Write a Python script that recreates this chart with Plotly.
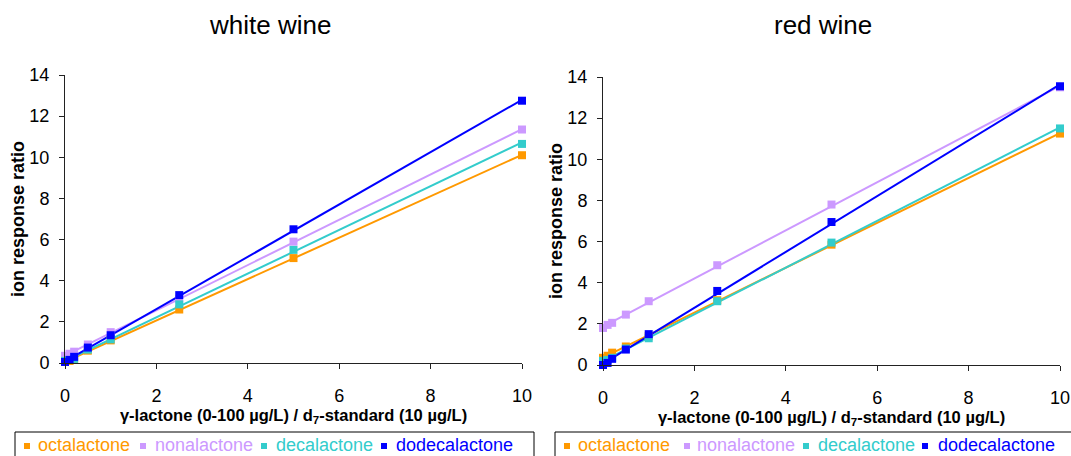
import numpy as np
import plotly.graph_objects as go

# Concentration ratio levels (gamma-lactone / d7-standard)
x_levels = [0, 0.1, 0.2, 0.5, 1, 2.5, 5, 10]

names = ["octalactone", "nonalactone", "decalactone", "dodecalactone"]
colors = ["#FF9900", "#CC99FF", "#33CCCC", "#0000FF"]

# White wine ion response ratios
white_octa = [0.05, 0.1, 0.2, 0.6, 1.1, 2.6, 5.1, 10.1]
white_nona = [0.35, 0.45, 0.55, 0.9, 1.5, 3.1, 5.9, 11.35]
white_deca = [0.1, 0.15, 0.2, 0.65, 1.15, 2.85, 5.5, 10.65]
white_dodeca = [0.05, 0.15, 0.3, 0.75, 1.35, 3.3, 6.5, 12.75]

# Red wine ion response ratios
red_octa = [0.35, 0.45, 0.6, 0.9, 1.4, 3.15, 5.85, 11.25]
red_nona = [1.8, 1.95, 2.05, 2.45, 3.1, 4.85, 7.8, 13.5]
red_deca = [0.2, 0.25, 0.35, 0.8, 1.3, 3.1, 5.95, 11.5]
red_dodeca = [0.0, 0.1, 0.3, 0.75, 1.5, 3.6, 6.95, 13.55]

white = [white_octa, white_nona, white_deca, white_dodeca]
red = [red_octa, red_nona, red_deca, red_dodeca]

FONT = "Liberation Sans, Arial, sans-serif"
W, H = 1071, 456

fig = go.Figure()


def add_panel(series, xa, ya):
    for name, color, ys in zip(names, colors, series):
        # linear trendline through the calibration points
        slope, icpt = np.polyfit(x_levels, ys, 1)
        xl = np.array([0.0, 10.0])
        fig.add_trace(go.Scatter(
            x=xl, y=slope * xl + icpt, mode="lines",
            line=dict(color=color, width=2),
            xaxis=xa, yaxis=ya, showlegend=False, hoverinfo="skip"))
    for name, color, ys in zip(names, colors, series):
        fig.add_trace(go.Scatter(
            x=x_levels, y=ys, mode="markers",
            marker=dict(symbol="square", size=8, color=color),
            name=name, xaxis=xa, yaxis=ya, showlegend=False, cliponaxis=False))


add_panel(white, "x", "y")
add_panel(red, "x2", "y2")

axis_common = dict(
    showgrid=False, zeroline=False, showline=True, linecolor="#222222", linewidth=1,
    ticks="outside", ticklen=5, tickcolor="#222222", automargin=False,
    tickfont=dict(family=FONT, size=18, color="black"),
)

xtitle = "γ-lactone (0-100 µg/L) / d<sub>7</sub>-standard (10 µg/L)"


def xaxis(dom, anchor):
    return dict(axis_common, domain=dom, anchor=anchor, range=[0, 10], dtick=2,
                ticklabelstandoff=11,
                title=dict(text=f"<b>{xtitle}</b>", font=dict(family=FONT, size=16.5, color="black"),
                           standoff=0))


def yaxis(dom, anchor):
    return dict(axis_common, domain=dom, anchor=anchor, range=[0, 14], dtick=2,
                ticklabelstandoff=6,
                title=dict(text="<b>ion response ratio</b>", font=dict(family=FONT, size=18, color="black"),
                           standoff=0))


# Boxed legends under each panel: frame, colour squares and coloured labels
shapes = []
annotations = []
legend_rows = [
    # (frame left, frame right, square centres, label starts)
    (15, 534, [27, 143, 264, 384], [36, 153, 274, 394]),
    (555, 1090, [567, 687, 806, 925], [576, 695, 816, 936]),
]
LEG_TOP, LEG_Y = 432, 446
for left, right, sq_x, txt_x in legend_rows:
    shapes.append(dict(type="rect", xref="paper", yref="paper",
                       x0=left / W, x1=right / W, y0=1 - 470 / H, y1=1 - LEG_TOP / H,
                       line=dict(color="black", width=1), fillcolor="white", layer="above"))
    for name, color, sx, tx in zip(names, colors, sq_x, txt_x):
        shapes.append(dict(type="rect", xref="paper", yref="paper",
                           x0=(sx - 3) / W, x1=(sx + 3) / W,
                           y0=1 - (LEG_Y + 3) / H, y1=1 - (LEG_Y - 3) / H,
                           line=dict(width=0), fillcolor=color, layer="above"))
        annotations.append(dict(text=name, x=tx / W, y=1 - (LEG_Y - 1) / H,
                                xref="paper", yref="paper", xanchor="left", yanchor="middle",
                                showarrow=False, font=dict(family=FONT, size=18, color=color)))

annotations += [
    dict(text="white wine", x=270 / W, y=1 - 25 / H, xref="paper", yref="paper",
         xanchor="center", yanchor="middle",
         showarrow=False, font=dict(family=FONT, size=26, color="black")),
    dict(text="red wine", x=823 / W, y=1 - 25 / H, xref="paper", yref="paper",
         xanchor="center", yanchor="middle",
         showarrow=False, font=dict(family=FONT, size=26, color="black")),
]

fig.update_layout(
    width=W, height=H,
    margin=dict(l=0, r=0, t=0, b=0, autoexpand=False),
    paper_bgcolor="white", plot_bgcolor="white",
    font=dict(family=FONT, color="black"),
    showlegend=False,
    xaxis=xaxis([65 / W, 522 / W], "y"),
    yaxis=yaxis([1 - 363 / H, 1 - 75 / H], "x"),
    xaxis2=xaxis([603 / W, 1060 / W], "y2"),
    yaxis2=yaxis([1 - 365 / H, 1 - 77 / H], "x2"),
    shapes=shapes,
    annotations=annotations,
)

fig.write_html("out.html")
